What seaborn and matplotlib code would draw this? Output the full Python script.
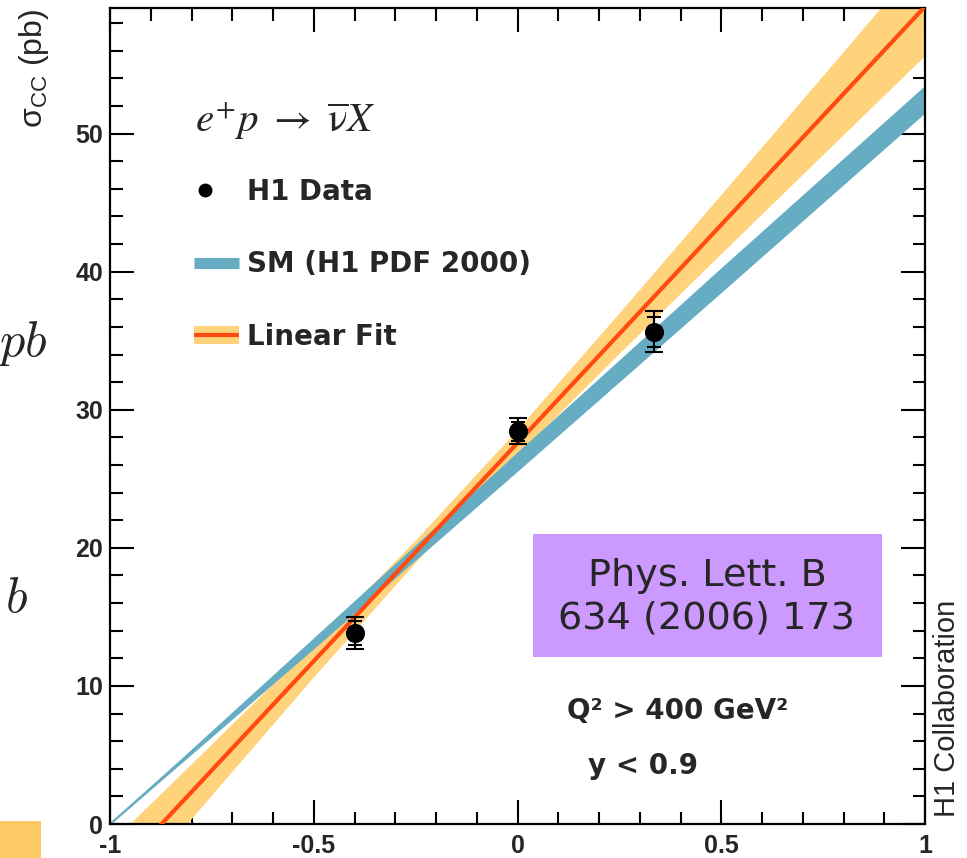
import numpy as np
import pandas as pd
import matplotlib
matplotlib.use("Agg")
import matplotlib.pyplot as plt
import seaborn as sns
from matplotlib.lines import Line2D
from matplotlib.patches import Rectangle
from matplotlib.ticker import MultipleLocator
from matplotlib.legend_handler import HandlerLine2DCompound

# ---------------- data ----------------
# H1 data points: lepton beam polarisation vs CC cross section (pb)
pol = [-0.40, 0.00, 0.335]
sigma = [13.85, 28.45, 35.65]
err_tot = [1.15, 0.95, 1.50]
err_stat = [0.85, 0.70, 1.10]

# Linear fit: centre and half width of the error band
fit_x = [-1.0, -0.75, -0.5, -0.25, 0.0, 0.25, 0.5, 0.75, 1.0]
fit_centre = [-4.0, 3.9, 11.8, 19.7, 27.6, 35.5, 43.4, 51.3, 59.2]
fit_half = [2.55, 1.85, 1.20, 0.80, 0.92, 1.46, 2.14, 2.86, 3.60]

# SM (H1 PDF 2000) prediction band
sm_x = [-1.0, -0.5, 0.0, 0.5, 1.0]
sm_centre = [0.0, 13.1, 26.25, 39.4, 52.5]
sm_half = [0.05, 0.40, 0.70, 0.90, 1.00]

xticks = [-1, -0.5, 0, 0.5, 1]
xticklabels = ["-1", "-0.5", "0", "0.5", "1"]
yticks = [0, 10, 20, 30, 40, 50]

# ---------------- figure ----------------
sns.set_theme(style="ticks")
plt.rcParams["font.family"] = ["Liberation Sans", "DejaVu Sans"]
plt.rcParams["axes.linewidth"] = 1.6

W, H = 967, 858
fig = plt.figure(figsize=(W / 100, H / 100), dpi=100, facecolor="white")
ax = fig.add_axes([110 / W, 1 - 824 / H, 815 / W, 816 / H])
ax.set_facecolor("white")

def fx(px):
    return px / W

def fy(py):
    return 1 - py / H

ORANGE = "#FFD27C"
RED = "#FF4A10"
BLUE = "#66ADC3"
WIDE = ["DejaVu Sans"]

fit_df = pd.DataFrame({"x": fit_x, "c": fit_centre, "h": fit_half})
sm_df = pd.DataFrame({"x": sm_x, "c": sm_centre, "h": sm_half})

# fit band
ax.fill_between(fit_df["x"], fit_df["c"] - fit_df["h"], fit_df["c"] + fit_df["h"],
                color=ORANGE, lw=0, zorder=1)
# SM band
ax.fill_between(sm_df["x"], sm_df["c"] - sm_df["h"], sm_df["c"] + sm_df["h"],
                color=BLUE, lw=0, zorder=2)
sns.lineplot(data=sm_df, x="x", y="c", ax=ax, color=BLUE, lw=1.3, zorder=2)
# fit centre line
sns.lineplot(data=fit_df, x="x", y="c", ax=ax, color=RED, lw=3, zorder=3)

# data points
ax.errorbar(pol, sigma, yerr=err_tot, fmt="none", ecolor="black", elinewidth=1.5,
            capsize=6.5, capthick=1.5, zorder=5)
ax.errorbar(pol, sigma, yerr=err_stat, fmt="none", ecolor="black", elinewidth=1.5,
            capsize=5, capthick=1.5, zorder=5)
sns.scatterplot(x=pol, y=sigma, ax=ax, color="black", s=190, edgecolor="black",
                linewidth=0, zorder=6)

ax.set_xlim(-1, 1)
ax.set_ylim(0, 59.1)
ax.set_xticks(xticks)
ax.set_xticklabels(xticklabels)
ax.set_yticks(yticks)
ax.xaxis.set_minor_locator(MultipleLocator(0.1))
ax.yaxis.set_minor_locator(MultipleLocator(2))
ax.tick_params(which="both", direction="in", top=True, right=True, color="black",
               width=1.5, labelsize=18)
ax.tick_params(which="major", length=17)
ax.tick_params(which="minor", length=9)
ax.tick_params(axis="x", which="major", pad=7)
ax.tick_params(axis="y", which="major", pad=5)
for lab in ax.get_xticklabels() + ax.get_yticklabels():
    lab.set_fontweight("bold")
for s in ax.spines.values():
    s.set_color("black")
ax.set_xlabel("")
ax.set_ylabel("")

# y label
fig.text(fx(34), fy(9), r"$\mathregular{\sigma_{CC}}$ (pb)", rotation=90,
         ha="center", va="top", fontsize=23)

# reaction
ax.text(fx(195), fy(121), r"$e^{+}p\ \rightarrow\ \overline{\mathrm{\nu}}X$",
        transform=fig.transFigure, fontsize=29.5, math_fontfamily="stix",
        ha="left", va="center")


class LeftMarker(HandlerLine2DCompound):
    def get_xdata(self, legend, xdescent, ydescent, width, height, fontsize):
        xdata, _ = super().get_xdata(legend, xdescent, ydescent, width, height, fontsize)
        return xdata, [-xdescent + 0.25 * width]


# legend
h_data = Line2D([], [], ls="none", marker="o", color="black", markersize=9)
handles = [
    h_data,
    Line2D([], [], color=BLUE, lw=8, solid_capstyle="butt"),
    (Line2D([], [], color=ORANGE, lw=13, solid_capstyle="butt"),
     Line2D([], [], color=RED, lw=3, solid_capstyle="butt")),
]
labels = ["H1 Data", "SM (H1 PDF 2000)", "Linear Fit"]
leg = ax.legend(handles, labels, loc="upper left", bbox_to_anchor=(fx(194), fy(178)),
                bbox_transform=fig.transFigure, frameon=False, borderpad=0,
                borderaxespad=0, handlelength=1.62, handletextpad=0.3,
                labelspacing=1.6, numpoints=1,
                handler_map={h_data: LeftMarker(numpoints=1)},
                prop={"family": WIDE, "weight": "bold", "size": 20})

# kinematic cuts
fig.text(fx(567), fy(711), "Q² > 400 GeV²", fontsize=20, fontweight="bold",
         family=WIDE, ha="left", va="center")
fig.text(fx(588), fy(766), "y < 0.9", fontsize=20, fontweight="bold",
         family=WIDE, ha="left", va="center")

# H1 collaboration tag
fig.text(fx(947), fy(708), "H1 Collaboration", rotation=90, fontsize=21,
         ha="center", va="center")

# reference box
fig.patches.append(Rectangle((fx(533), fy(657)), fx(882) - fx(533), fy(534) - fy(657),
                             transform=fig.transFigure, facecolor="#CC99FF",
                             edgecolor="none", zorder=10))
fig.text(fx(707), fy(597), "Phys. Lett. B\n634 (2006) 173", fontsize=27.5,
         ha="center", va="center", linespacing=1.22, zorder=11,
         family=WIDE)

# cut-off slide fragments on the left
fig.text(fx(48), fy(356), r"$pb$", fontsize=36, math_fontfamily="cm",
         ha="right", va="baseline")
fig.text(fx(28), fy(612), r"$b$", fontsize=36, math_fontfamily="cm",
         ha="right", va="baseline")
fig.patches.append(Rectangle((0, 0), fx(41), fy(821), transform=fig.transFigure,
                             facecolor="#FDC965", edgecolor="none"))

fig.savefig("out.png", dpi=100, facecolor="white")
